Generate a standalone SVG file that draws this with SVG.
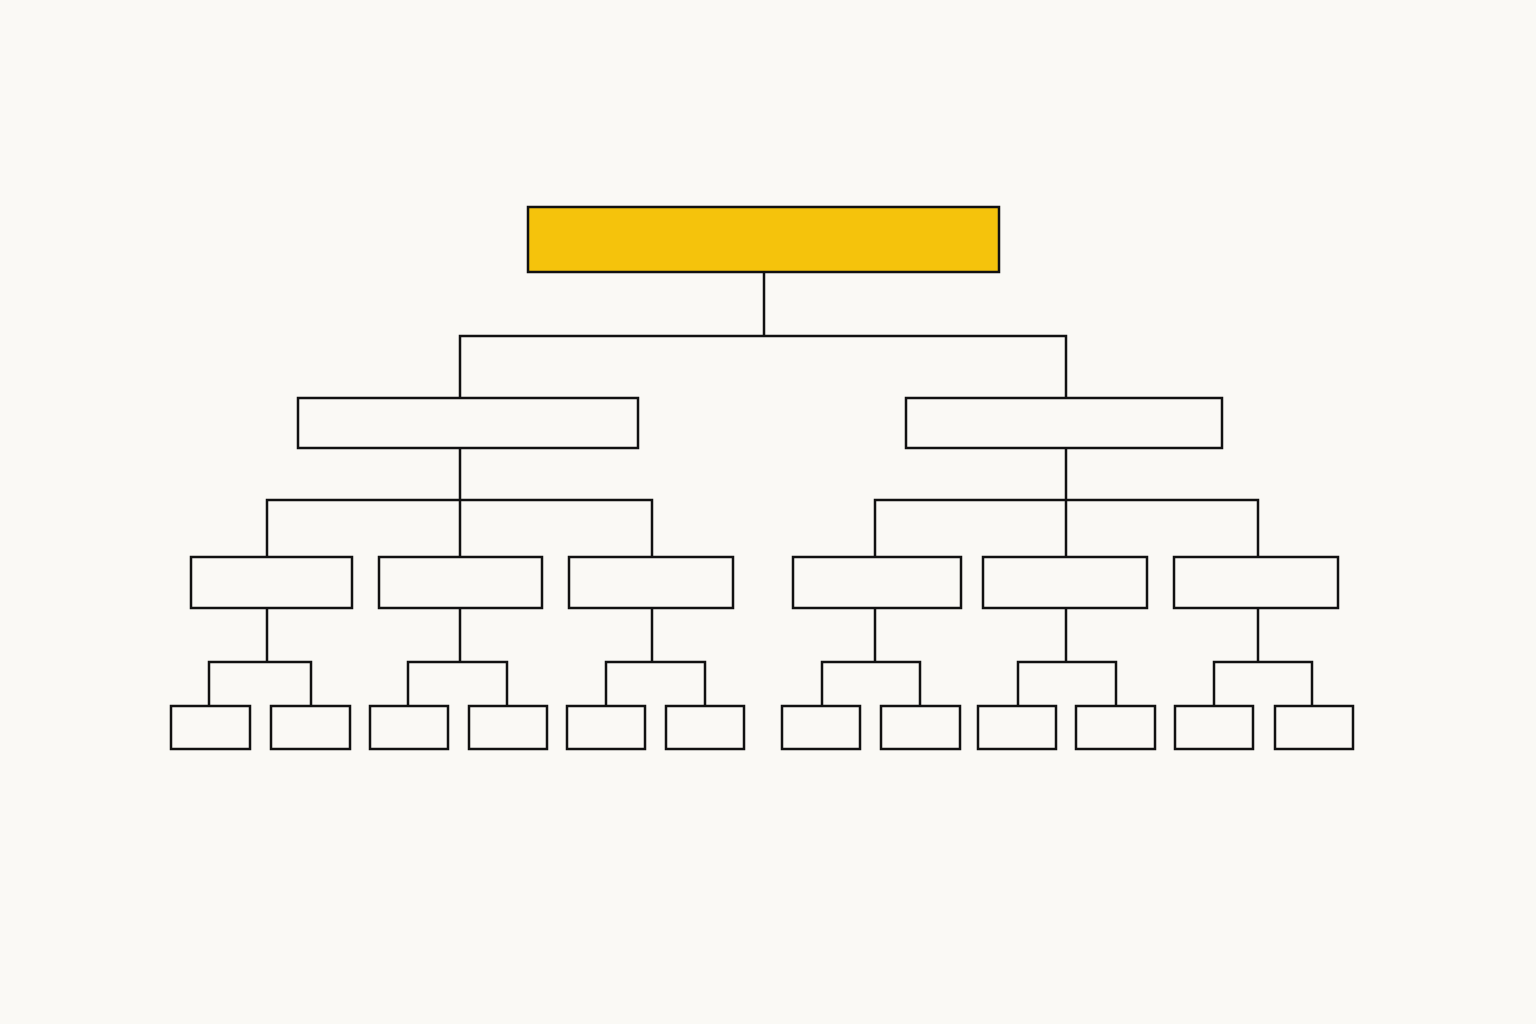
<svg xmlns="http://www.w3.org/2000/svg" width="1536" height="1024" viewBox="0 0 1536 1024">
<style>
.n{fill:#FAF9F5;stroke:#111;stroke-width:2.5}
.root{fill:#F5C30C;stroke:#111;stroke-width:2.5}
.c{fill:none;stroke:#111;stroke-width:2.5;stroke-linecap:square}
</style>
<rect width="1536" height="1024" fill="#FAF9F5"/>
<g id="connectors" class="c">
<path d="M764 272V336M460 336H1066M460 336V398M1066 336V398"/>
<path d="M460 448V500M267 500H652M267 500V557M460 500V557M652 500V557"/>
<path d="M1066 448V500M875 500H1258M875 500V557M1066 500V557M1258 500V557"/>
<path d="M267 608V662M209 662H311M209 662V706M311 662V706"/>
<path d="M460 608V662M408 662H507M408 662V706M507 662V706"/>
<path d="M652 608V662M606 662H705M606 662V706M705 662V706"/>
<path d="M875 608V662M822 662H920M822 662V706M920 662V706"/>
<path d="M1066 608V662M1018 662H1116M1018 662V706M1116 662V706"/>
<path d="M1258 608V662M1214 662H1312M1214 662V706M1312 662V706"/>
</g>
<g id="root"><rect class="root" x="528" y="207" width="471" height="65"/></g>
<g id="l2a"><rect class="n" x="298" y="398" width="340" height="50"/></g>
<g id="l2b"><rect class="n" x="906" y="398" width="316" height="50"/></g>
<g id="l3a"><rect class="n" x="191" y="557" width="161" height="51"/></g>
<g id="l3b"><rect class="n" x="379" y="557" width="163" height="51"/></g>
<g id="l3c"><rect class="n" x="569" y="557" width="164" height="51"/></g>
<g id="l3d"><rect class="n" x="793" y="557" width="168" height="51"/></g>
<g id="l3e"><rect class="n" x="983" y="557" width="164" height="51"/></g>
<g id="l3f"><rect class="n" x="1174" y="557" width="164" height="51"/></g>
<g id="l4a"><rect class="n" x="171" y="706" width="79" height="43"/></g>
<g id="l4b"><rect class="n" x="271" y="706" width="79" height="43"/></g>
<g id="l4c"><rect class="n" x="370" y="706" width="78" height="43"/></g>
<g id="l4d"><rect class="n" x="469" y="706" width="78" height="43"/></g>
<g id="l4e"><rect class="n" x="567" y="706" width="78" height="43"/></g>
<g id="l4f"><rect class="n" x="666" y="706" width="78" height="43"/></g>
<g id="l4g"><rect class="n" x="782" y="706" width="78" height="43"/></g>
<g id="l4h"><rect class="n" x="881" y="706" width="79" height="43"/></g>
<g id="l4i"><rect class="n" x="978" y="706" width="78" height="43"/></g>
<g id="l4j"><rect class="n" x="1076" y="706" width="79" height="43"/></g>
<g id="l4k"><rect class="n" x="1175" y="706" width="78" height="43"/></g>
<g id="l4l"><rect class="n" x="1275" y="706" width="78" height="43"/></g>
</svg>
